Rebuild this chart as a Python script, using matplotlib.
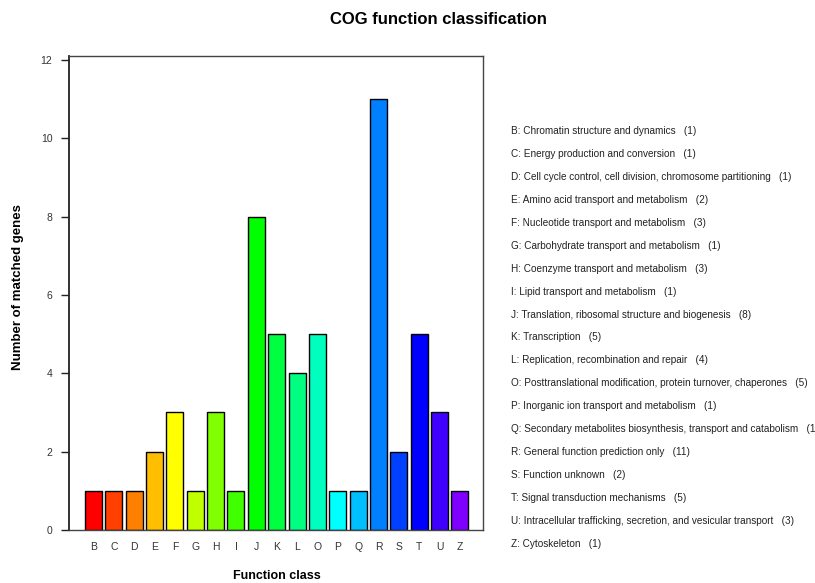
import matplotlib
matplotlib.use("Agg")
import matplotlib.pyplot as plt

categories = ["B", "C", "D", "E", "F", "G", "H", "I", "J", "K", "L", "O", "P", "Q", "R", "S", "T", "U", "Z"]
values = [1, 1, 1, 2, 3, 1, 3, 1, 8, 5, 4, 5, 1, 1, 11, 2, 5, 3, 1]
descriptions = [
    "Chromatin structure and dynamics",
    "Energy production and conversion",
    "Cell cycle control, cell division, chromosome partitioning",
    "Amino acid transport and metabolism",
    "Nucleotide transport and metabolism",
    "Carbohydrate transport and metabolism",
    "Coenzyme transport and metabolism",
    "Lipid transport and metabolism",
    "Translation, ribosomal structure and biogenesis",
    "Transcription",
    "Replication, recombination and repair",
    "Posttranslational modification, protein turnover, chaperones",
    "Inorganic ion transport and metabolism",
    "Secondary metabolites biosynthesis, transport and catabolism",
    "General function prediction only",
    "Function unknown",
    "Signal transduction mechanisms",
    "Intracellular trafficking, secretion, and vesicular transport",
    "Cytoskeleton",
]
colors = ["#FF0000", "#FF4000", "#FF8000", "#FFBF00", "#FFFF00", "#BFFF00", "#80FF00",
          "#40FF00", "#00FF00", "#00FF40", "#00FF80", "#00FFBF", "#00FFFF", "#00BFFF",
          "#0080FF", "#0040FF", "#0000FF", "#4000FF", "#8000FF"]
yticks = [0, 2, 4, 6, 8, 10, 12]

plt.rcParams['font.family'] = ['Liberation Sans', 'DejaVu Sans']

W, H = 815, 583
fig = plt.figure(figsize=(W / 100, H / 100), dpi=100)
ax = fig.add_axes([69 / W, 1 - 530 / H, (483 - 69) / W, (530 - 56) / H])

x = list(range(len(categories)))
ax.bar(x, values, width=0.835, color=colors, edgecolor="black", linewidth=1.0)
ax.set_xlim(-1.2, len(categories) - 1 + 1.13)
ax.set_ylim(0, 12.1)
ax.set_yticks(yticks)
ax.set_yticklabels([str(v) for v in yticks], fontsize=7.5, color="#333333")
ax.set_xticks(x)
ax.set_xticklabels(categories, fontsize=7.5, color="#333333")
ax.tick_params(axis="x", length=0, pad=9)
ax.tick_params(axis="y", length=6, width=1, color="#222222", pad=6)
for s in ax.spines.values():
    s.set_linewidth(1.0)
    s.set_color("#444444")
ax.spines["left"].set_color("#222222")
ax.spines["left"].set_linewidth(1.3)

fig.text(438 / W, 1 - 20 / H, "COG function classification", ha="center", va="center",
         fontsize=12, fontweight="bold")
fig.text(277 / W, 1 - 576 / H, "Function class", ha="center", va="center",
         fontsize=9, fontweight="bold")
fig.text(18 / W, 1 - 287 / H, "Number of matched genes", ha="center", va="center",
         rotation=90, fontsize=9.5, fontweight="bold")

y0, dy = 131, (544 - 131) / 18
for i, (c, d, v) in enumerate(zip(categories, descriptions, values)):
    fig.text(511 / W, 1 - (y0 + i * dy) / H, f"{c}: {d}   ({v})", ha="left", va="center",
             fontsize=7.2, color="#222222")

fig.savefig("out.png", dpi=100, facecolor="white")
